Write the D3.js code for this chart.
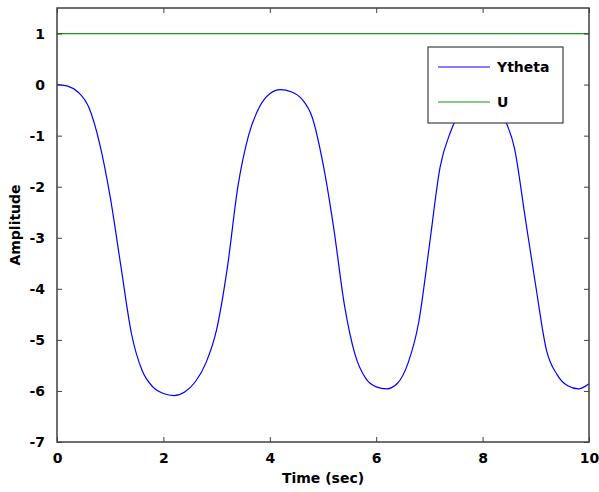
<!DOCTYPE html>
<html>
<head>
<meta charset="utf-8">
<script src="https://cdn.jsdelivr.net/npm/d3@7"></script>
<style>
  body { margin: 0; background: #fff; }
  text { font-family: "DejaVu Sans", Verdana, sans-serif; font-weight: bold; }
</style>
</head>
<body>
<div id="chart"></div>
<script>
// time samples (sec) and the Ytheta response
const timeSec = [0, 0.2, 0.4, 0.6, 0.8, 1.0, 1.2, 1.4, 1.6, 1.8, 2.0, 2.2, 2.4, 2.6, 2.8, 3.0, 3.2, 3.4, 3.6, 3.8,
                 4.0, 4.2, 4.4, 4.6, 4.8, 5.0, 5.2, 5.4, 5.6, 5.8, 6.0, 6.2, 6.4, 6.6, 6.8, 7.0, 7.2, 7.4, 7.6, 7.8,
                 8.0, 8.2, 8.4, 8.6, 8.8, 9.0, 9.2, 9.4, 9.6, 9.8, 10.0];
const ytheta = [0, -0.03, -0.15, -0.45, -1.15, -2.2, -3.55, -4.88, -5.6, -5.92, -6.05, -6.09, -6.02, -5.82, -5.45, -4.8, -3.6, -2.0, -1.0, -0.45,
                -0.18, -0.1, -0.14, -0.28, -0.65, -1.55, -2.8, -4.3, -5.28, -5.75, -5.92, -5.96, -5.85, -5.45, -4.65, -3.15, -1.62, -0.92, -0.5, -0.3,
                -0.25, -0.35, -0.65, -1.25, -2.6, -3.95, -5.2, -5.68, -5.9, -5.96, -5.86];
const uInput = [1, 1];
const uTime = [0, 10];
const xTicks = [0, 2, 4, 6, 8, 10];
const yTicks = [-7, -6, -5, -4, -3, -2, -1, 0, 1];
const seriesNames = ["Ytheta", "U"];
const seriesColors = ["#0000ff", "#139613"];

const width = 599, height = 492;
const margin = { top: 8, right: 10, bottom: 50, left: 57 };

const x = d3.scaleLinear().domain([0, 10]).range([margin.left, width - margin.right]);
const y = d3.scaleLinear().domain([-7, 1.5]).range([height - margin.bottom, margin.top]);

const svg = d3.select("#chart").append("svg")
    .attr("width", width)
    .attr("height", height)
    .attr("viewBox", [0, 0, width, height]);

const line = d3.line().x(d => x(d[0])).y(d => y(d[1])).curve(d3.curveMonotoneX);

svg.append("path")
    .datum(d3.zip(timeSec, ytheta))
    .attr("fill", "none")
    .attr("stroke", seriesColors[0])
    .attr("stroke-width", 1.2)
    .attr("d", line);

svg.append("path")
    .datum(d3.zip(uTime, uInput))
    .attr("fill", "none")
    .attr("stroke", seriesColors[1])
    .attr("stroke-width", 1.2)
    .attr("d", line);

// axes with inward ticks on all four sides (matlab box)
const axisColor = "#404040";
const tk = 5;
const fmt = d => String(d);
const xAxis = g => g
    .attr("transform", `translate(0,${y(-7)})`)
    .call(d3.axisBottom(x).tickValues(xTicks).tickSize(-tk).tickPadding(tk + 6).tickFormat(fmt))
    .call(g => g.select(".domain").remove())
    .call(g => g.selectAll("line").attr("stroke", axisColor))
    .call(g => g.selectAll("text").attr("fill", "#000").style("font-size", "14px"));

const yAxis = g => g
    .attr("transform", `translate(${x(0)},0)`)
    .call(d3.axisLeft(y).tickValues(yTicks).tickSize(-tk).tickPadding(tk + 7).tickFormat(fmt))
    .call(g => g.select(".domain").remove())
    .call(g => g.selectAll("line").attr("stroke", axisColor))
    .call(g => g.selectAll("text").attr("fill", "#000").style("font-size", "14px"));

svg.append("g").call(xAxis);
svg.append("g").call(yAxis);

svg.append("g")
    .attr("transform", `translate(0,${y(1.5)})`)
    .call(d3.axisTop(x).tickValues(xTicks).tickSize(-tk).tickFormat(""))
    .call(g => g.select(".domain").remove())
    .call(g => g.selectAll("line").attr("stroke", axisColor));

svg.append("g")
    .attr("transform", `translate(${x(10)},0)`)
    .call(d3.axisRight(y).tickValues(yTicks).tickSize(-tk).tickFormat(""))
    .call(g => g.select(".domain").remove())
    .call(g => g.selectAll("line").attr("stroke", axisColor));

// box
svg.append("rect")
    .attr("x", x(0)).attr("y", y(1.5))
    .attr("width", x(10) - x(0)).attr("height", y(-7) - y(1.5))
    .attr("fill", "none")
    .attr("stroke", axisColor)
    .attr("stroke-width", 1.5);

// labels
svg.append("text")
    .attr("x", (x(0) + x(10)) / 2)
    .attr("y", 483)
    .attr("text-anchor", "middle")
    .style("font-size", "14px")
    .text("Time (sec)");

svg.append("text")
    .attr("transform", `translate(20,${(y(1.5) + y(-7)) / 2}) rotate(-90)`)
    .attr("text-anchor", "middle")
    .style("font-size", "14px")
    .text("Amplitude");

// legend
const legend = svg.append("g").attr("transform", "translate(428,47)");
legend.append("rect")
    .attr("width", 135).attr("height", 76)
    .attr("fill", "#fff")
    .attr("stroke", axisColor)
    .attr("stroke-width", 1.2);

const legendItem = legend.selectAll("g.item")
    .data(seriesNames)
    .enter().append("g")
    .attr("class", "item")
    .attr("transform", (d, i) => `translate(0,${20 + i * 35})`);

legendItem.append("line")
    .attr("x1", 10).attr("x2", 62)
    .attr("stroke", (d, i) => seriesColors[i])
    .attr("stroke-width", 1.2);

legendItem.append("text")
    .attr("x", 69)
    .attr("dy", "0.36em")
    .style("font-size", "14px")
    .text(d => d);
</script>
</body>
</html>
